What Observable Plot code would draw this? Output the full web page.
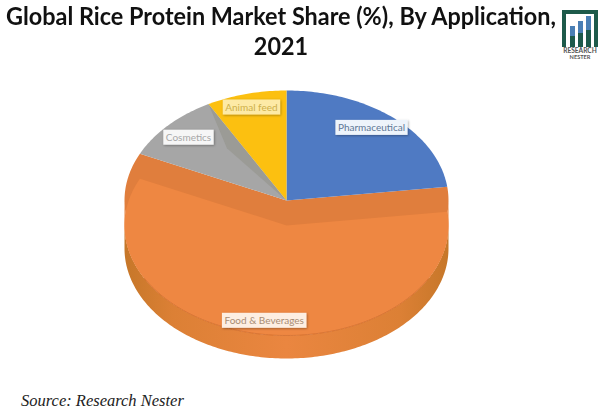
<!DOCTYPE html>
<html>
<head>
<meta charset="utf-8">
<script src="https://cdn.jsdelivr.net/npm/d3@7"></script>
<script src="https://cdn.jsdelivr.net/npm/@observablehq/plot@0.6"></script>
<style>
html,body{margin:0;padding:0;background:#fff;width:600px;height:413px;overflow:hidden}
#wrap{position:relative;width:600px;height:413px;overflow:hidden}
#title{position:absolute;left:-19px;top:1px;width:600px;text-align:center;font:700 24.5px/30px Lato,sans-serif;color:#111;white-space:nowrap;transform:scaleX(.955);transform-origin:300px 0}
#chart{position:absolute;left:0;top:62px}
#source{position:absolute;left:21px;top:391px;font:italic 16.5px "Liberation Serif",serif;color:#222}
#logo{position:absolute;left:561px;top:9px}
</style>
</head>
<body>
<div id="wrap">
  <div id="title">Global Rice Protein Market Share (%), By Application,<br>2021</div>
  <div id="chart"></div>
  <div id="source">Source: Research Nester</div>
  <svg id="logo" width="38" height="50" viewBox="0 0 38 50">
    <path d="M1 1H37V38H33V5H5V38H1Z" fill="#1d5a4a"/>
    <rect x="9" y="17" width="5" height="21" fill="#4a7fb5"/>
    <rect x="9" y="27" width="5" height="11" fill="#1d5a4a"/>
    <rect x="17" y="12" width="5" height="26" fill="#4a7fb5"/>
    <rect x="17" y="24" width="5" height="14" fill="#1d5a4a"/>
    <rect x="25" y="7" width="5" height="31" fill="#4a7fb5"/>
    <rect x="25" y="21" width="5" height="17" fill="#1d5a4a"/>
    <text x="19" y="44" text-anchor="middle" font-family="Lato,sans-serif" font-weight="700" font-size="6.6" fill="#555">RESEARCH</text>
    <text x="19" y="50" text-anchor="middle" font-family="Lato,sans-serif" font-weight="700" font-size="5.6" fill="#555">NESTER</text>
  </svg>
</div>
<script>
const categories = ["Pharmaceutical", "Food & Beverages", "Cosmetics", "Animal feed"];
const shares = [23, 59, 10, 8];
const sliceColors = ["#4f7ac3", "#ee8742", "#a6a6a6", "#fcc010"];
const labelFills = ["#eef4fb", "#fdeee2", "#f6f6f6", "#fdeaa6"];
const labelInks = ["#5f7896", "#a88c74", "#a8a8a8", "#cdb04a"];
const labelRadius = [0.84, 0.88, 0.83, 0.87];

const rx = 162, ry = 110, cx = 286, cy = 138, W = 600, H = 322;
const explode = 25 / ry, depth = 23 / ry;
const deg = Math.PI / 180;

const arcs = d3.pie().sort(null).value(d => d)(shares);
const pt = (t, off = 0) => ({x: Math.sin(t), y: -Math.cos(t) + off});
const arcPts = (a, b, off = 0) => {
  const n = Math.max(2, Math.ceil((b - a) / deg));
  return d3.range(n + 1).map(i => pt(a + (b - a) * i / n, off));
};
const sector = (a, b, off = 0) => [{x: 0, y: off}, ...arcPts(a, b, off)];
const poly = (pts, fill, extra = {}) => Plot.line(pts, {x: "x", y: "y", fill, stroke: "none", curve: "linear", ...extra});

const isExploded = i => i === 1;
const ex = arcs[1];
const marks = [];

// outer wall of the exploded slice
marks.push(poly([...arcPts(Math.PI / 2, 1.5 * Math.PI, explode), ...arcPts(Math.PI / 2, 1.5 * Math.PI, explode + depth).reverse()], "url(#wallGrad)"));
// the cut wall, seen between the flat slices and the exploded top face
marks.push(poly(sector(ex.startAngle, ex.endAngle, 0), "#e07e3d"));
marks.push(poly([...arcPts(Math.PI / 2, 1.5 * Math.PI, 0), ...arcPts(Math.PI / 2, 1.5 * Math.PI, explode).reverse()], "#e8833f"));
// top faces
arcs.forEach((a, i) => {
  marks.push(poly(sector(a.startAngle, a.endAngle, isExploded(i) ? explode : 0), sliceColors[i]));
});
// soft shadow that the yellow slice throws on the grey one
const yEnd = arcs[3].startAngle;
marks.push(poly([{x: 0, y: 0}, pt(yEnd), {x: pt(yEnd - 9 * deg).x * 0.6, y: pt(yEnd - 9 * deg).y * 0.6}], "#8f8f86", {fillOpacity: 0.5}));
// rim of the exploded slice top face
marks.push(Plot.line(arcPts(Math.PI * 0.66, Math.PI * 1.34, explode), {x: "x", y: "y", stroke: "#cf6a2a", strokeWidth: 0.7}));

// labels
arcs.forEach((a, i) => {
  const mid = (a.startAngle + a.endAngle) / 2, r = labelRadius[i];
  const p = {x: Math.sin(mid) * r, y: -Math.cos(mid) * r + (isExploded(i) ? explode : 0)};
  marks.push(Plot.text([categories[i]], {
    x: () => p.x, y: () => p.y, text: d => d,
    fill: labelInks[i], fontSize: 10,
    dx: i === 0 ? -5 : 0, dy: i === 0 ? -3 : 0,
    fontFamily: "Lato, sans-serif", className: "lab lab" + i
  }));
});

const svg = Plot.plot({
  width: W, height: H, margin: 0,
  x: {domain: [-cx / rx, (W - cx) / rx], range: [0, W], axis: null},
  y: {domain: [-cy / ry, (H - cy) / ry], range: [0, H], axis: null},
  style: {background: "transparent"},
  marks
});
document.getElementById("chart").appendChild(svg);

// wall gradient
const ns = "http://www.w3.org/2000/svg";
const defs = document.createElementNS(ns, "defs");
defs.innerHTML = `<linearGradient id="wallGrad" x1="0" x2="1" y1="0" y2="0">
  <stop offset="0" stop-color="#c67729"/><stop offset="0.15" stop-color="#dc8035"/>
  <stop offset="0.5" stop-color="#ea8640"/><stop offset="0.85" stop-color="#dc8035"/>
  <stop offset="1" stop-color="#c67729"/></linearGradient>
  <filter id="boxShadow" x="-10%" y="-20%" width="125%" height="150%"><feDropShadow dx="0.8" dy="0.8" stdDeviation="0.8" flood-color="#000" flood-opacity="0.35"/></filter>`;
svg.prepend(defs);

// label boxes, sized from the text itself
categories.forEach((c, i) => {
  const g = svg.querySelector(".lab" + i);
  const t = g.querySelector("text");
  const b = t.getBBox();
  const r = document.createElementNS(ns, "rect");
  r.setAttribute("x", b.x - 2.5); r.setAttribute("y", b.y - 1.5);
  r.setAttribute("width", b.width + 5); r.setAttribute("height", b.height + 3);
  r.setAttribute("fill", labelFills[i]);
  r.setAttribute("filter", "url(#boxShadow)");
  if (t.getAttribute("transform")) r.setAttribute("transform", t.getAttribute("transform"));
  t.parentNode.insertBefore(r, t);
});
</script>
</body>
</html>
